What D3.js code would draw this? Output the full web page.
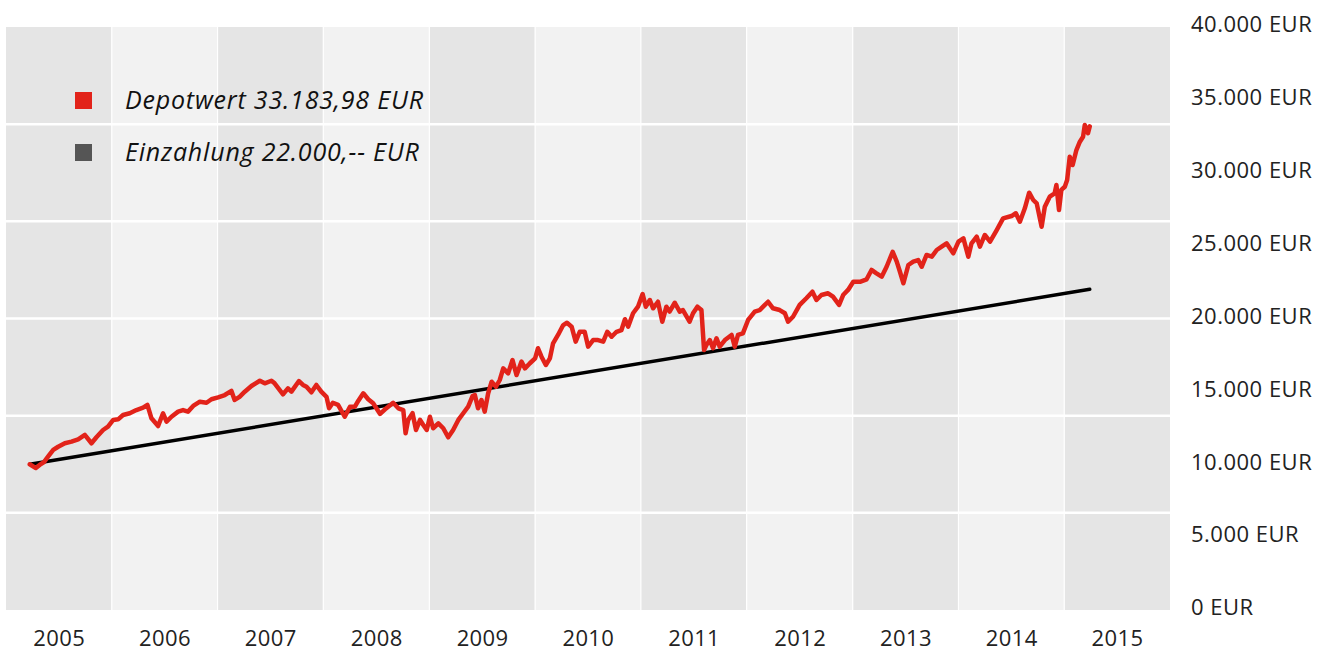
<!DOCTYPE html>
<html>
<head>
<meta charset="utf-8">
<script src="https://cdn.jsdelivr.net/npm/d3@7"></script>
<style>
body { margin: 0; background: #fff; }
svg text { font-family: "Open Sans", "Noto Sans", sans-serif; }
</style>
</head>
<body>
<svg></svg>
<script>
// Depotwert (Wochenwerte)
var depotDates = [
"2005-03-24","2005-04-14","2005-04-27","2005-05-12","2005-05-26","2005-06-13","2005-06-30","2005-07-23","2005-08-15","2005-09-07",
"2005-09-30","2005-10-23","2005-11-09","2005-12-02","2005-12-19","2006-01-06","2006-01-23","2006-02-09","2006-03-04","2006-03-27",
"2006-04-19","2006-05-04","2006-05-18","2006-06-10","2006-06-27","2006-07-09","2006-07-26","2006-08-18","2006-09-04","2006-09-21",
"2006-10-09","2006-11-01","2006-11-24","2006-12-11","2007-01-03","2007-01-26","2007-02-18","2007-03-01","2007-03-18","2007-04-05",
"2007-04-28","2007-05-27","2007-06-13","2007-07-06","2007-07-17","2007-08-15","2007-09-01","2007-09-13","2007-10-09","2007-10-23",
"2007-11-04","2007-11-21","2007-12-08","2007-12-25","2008-01-12","2008-01-21","2008-02-03","2008-02-21","2008-03-15","2008-04-02",
"2008-04-19","2008-05-01","2008-05-18","2008-06-04","2008-06-21","2008-07-15","2008-08-01","2008-08-12","2008-08-29","2008-09-16",
"2008-10-03","2008-10-11","2008-10-20","2008-11-04","2008-11-16","2008-11-30","2008-12-11","2008-12-23","2009-01-03","2009-01-14",
"2009-02-01","2009-02-18","2009-03-07","2009-03-24","2009-04-11","2009-04-28","2009-05-15","2009-05-30","2009-06-07","2009-06-18",
"2009-06-30","2009-07-11","2009-07-23","2009-08-04","2009-08-19","2009-09-01","2009-09-13","2009-09-30","2009-10-15","2009-10-29",
"2009-11-15","2009-11-27","2009-12-14","2010-01-01","2010-01-11","2010-01-23","2010-02-07","2010-02-21","2010-03-04","2010-03-21",
"2010-04-08","2010-04-21","2010-05-07","2010-05-21","2010-06-04","2010-06-21","2010-07-03","2010-07-20","2010-08-06","2010-08-24",
"2010-09-07","2010-09-22","2010-10-09","2010-10-26","2010-11-07","2010-11-18","2010-12-05","2010-12-22","2011-01-07","2011-01-18",
"2011-02-01","2011-02-12","2011-03-01","2011-03-16","2011-03-30","2011-04-10","2011-04-28","2011-05-15","2011-05-26","2011-06-18",
"2011-06-30","2011-07-15","2011-07-29","2011-08-07","2011-08-15","2011-08-27","2011-09-07","2011-09-19","2011-09-30","2011-10-18",
"2011-11-10","2011-11-21","2011-12-02","2011-12-19","2012-01-06","2012-01-29","2012-02-15","2012-03-15","2012-04-01","2012-04-24",
"2012-05-12","2012-05-23","2012-06-09","2012-07-02","2012-07-25","2012-08-15","2012-08-29","2012-09-15","2012-10-08","2012-10-25",
"2012-11-15","2012-11-29","2012-12-16","2013-01-03","2013-01-26","2013-02-18","2013-03-07","2013-03-24","2013-04-11","2013-04-28",
"2013-05-19","2013-06-02","2013-06-13","2013-06-25","2013-07-12","2013-07-29","2013-08-15","2013-08-27","2013-09-13","2013-10-01",
"2013-10-18","2013-11-04","2013-11-21","2013-12-14","2014-01-01","2014-01-18","2014-02-04","2014-02-15","2014-03-05","2014-03-16",
"2014-04-02","2014-04-20","2014-05-13","2014-06-04","2014-07-03","2014-07-18","2014-08-01","2014-08-18","2014-09-02","2014-09-16",
"2014-09-28","2014-10-15","2014-10-26","2014-11-12","2014-11-29","2014-12-05","2014-12-14","2014-12-22","2015-01-03","2015-01-11",
"2015-01-20","2015-01-30","2015-02-12","2015-02-24","2015-03-07","2015-03-13","2015-03-24","2015-03-30"
];
var depotValues = [
10000,9740,9950,10150,10520,10980,11200,11440,11550,11710,
12010,11440,11850,12350,12580,13040,13080,13380,13500,13720,
13880,14070,13150,12620,13500,12920,13260,13610,13720,13610,
14000,14290,14220,14460,14590,14750,15030,14410,14630,14980,
15370,15730,15550,15730,15550,14800,15210,14980,15710,15440,
15320,14940,15440,14980,14630,13840,14220,14070,13260,13950,
13950,14360,14870,14460,14180,13450,13770,13950,14220,13840,
13720,12120,13040,13500,12350,13040,12690,12350,13260,12470,
12810,12470,11850,12350,13040,13500,13950,14680,14750,13840,
14410,13610,14870,15660,15320,15780,16580,16240,17150,16120,
17040,16580,16930,17270,17960,17380,16810,17270,18300,18870,
19550,19710,19440,18410,19090,19090,18070,18520,18520,18410,
19090,18750,19090,19210,19950,19440,20360,20810,21680,20810,
21270,20700,21150,19780,20810,20470,21080,20470,20580,19780,
20360,20810,20580,17840,18180,18520,17960,18640,18070,18520,
18870,18070,18870,18980,19900,20470,20580,21150,20700,20580,
20360,19780,20120,20930,21390,21840,21270,21610,21730,21500,
20930,21610,21960,22520,22520,22690,23330,23100,22870,23550,
24580,23900,23210,22420,23670,23900,24010,23550,24360,24240,
24700,24930,25160,24470,25270,25500,24240,25160,25610,24930,
25730,25270,26070,26870,27030,27220,26640,27560,28630,28130,
27900,26300,27670,28360,28590,29160,27440,28820,29040,29500,
31100,30530,31560,32130,32470,33280,32710,33184
];
// Einzahlung: 10.000 EUR Start, danach monatlich 100 EUR
var einzahlungDates = ["2005-03-24", "2015-03-30"];
var einzahlungValues = [10000, 22000];

var years = [2005, 2006, 2007, 2008, 2009, 2010, 2011, 2012, 2013, 2014, 2015];
var yTicks = [0, 5000, 10000, 15000, 20000, 25000, 30000, 35000, 40000];
var legendLabels = ["Depotwert 33.183,98 EUR", "Einzahlung 22.000,-- EUR"];
var legendColors = ["#e2231a", "#555555"];

var screen = {width: 1327, height: 653};
var plot = {left: 6, right: 1170, top: 27, bottom: 610};

var parseDate = d3.timeParse("%Y-%m-%d");
var de = d3.formatLocale({decimal: ",", thousands: ".", grouping: [3], currency: ["", " EUR"]});
var fmt = de.format(",.0f");

var svg = d3.select("svg")
    .attr("width", screen.width)
    .attr("height", screen.height);

var xScale = d3.scaleTime()
    .domain([new Date(2005, 0, 1), new Date(2016, 0, 1)])
    .range([plot.left, plot.right]);
var yScale = d3.scaleLinear()
    .domain([0, 40000])
    .range([plot.bottom, plot.top]);

// Jahresbaender
svg.append("g")
    .selectAll("rect")
    .data(years)
    .enter()
    .append("rect")
    .attr("x", function(y){ return xScale(new Date(y, 0, 1)); })
    .attr("width", function(y){ return xScale(new Date(y + 1, 0, 1)) - xScale(new Date(y, 0, 1)); })
    .attr("y", plot.top)
    .attr("height", plot.bottom - plot.top)
    .attr("fill", function(y, i){ return i % 2 == 0 ? "#e5e5e5" : "#f2f2f2"; });

// vertikale Trennlinien
svg.append("g")
    .selectAll("line")
    .data(years.slice(1))
    .enter()
    .append("line")
    .attr("x1", function(y){ return xScale(new Date(y, 0, 1)); })
    .attr("x2", function(y){ return xScale(new Date(y, 0, 1)); })
    .attr("y1", plot.top)
    .attr("y2", plot.bottom)
    .attr("stroke", "#ffffff")
    .attr("stroke-width", 1.2);

// horizontale Gitterlinien (6 gleiche Streifen)
var gridValues = d3.range(1, 6).map(function(i){ return 40000 * i / 6; });
svg.append("g")
    .selectAll("line")
    .data(gridValues)
    .enter()
    .append("line")
    .attr("x1", plot.left)
    .attr("x2", plot.right)
    .attr("y1", function(v){ return yScale(v); })
    .attr("y2", function(v){ return yScale(v); })
    .attr("stroke", "#ffffff")
    .attr("stroke-width", 2.5);

// Achsen
var xAxis = d3.axisBottom(xScale)
    .tickValues(years.map(function(y){ return new Date(y, 6, 2); }))
    .tickFormat(d3.timeFormat("%Y"))
    .tickSize(0)
    .tickPadding(20);
var xg = svg.append("g")
    .attr("transform", "translate(0," + plot.bottom + ")")
    .call(xAxis);
xg.select(".domain").remove();
xg.selectAll("text").attr("font-size", 22).attr("fill", "#222").attr("font-family", null)
    .attr("letter-spacing", 0.4);

var yAxis = d3.axisRight(yScale)
    .tickValues(yTicks)
    .tickFormat(function(v){ return fmt(v) + " EUR"; })
    .tickSize(0)
    .tickPadding(21);
var yg = svg.append("g")
    .attr("transform", "translate(" + plot.right + ",0)")
    .call(yAxis);
yg.select(".domain").remove();
yg.selectAll("text").attr("font-size", 22).attr("fill", "#222").attr("font-family", null)
    .attr("letter-spacing", 0.5).attr("dy", "0.22em");

// Linien
var depot = depotDates.map(function(d, i){ return {date: parseDate(d), value: depotValues[i]}; });
var einzahlung = einzahlungDates.map(function(d, i){ return {date: parseDate(d), value: einzahlungValues[i]}; });

var line = d3.line()
    .x(function(d){ return xScale(d.date); })
    .y(function(d){ return yScale(d.value); });

svg.append("path")
    .datum(einzahlung)
    .attr("d", line)
    .attr("fill", "none")
    .attr("stroke", "#000000")
    .attr("stroke-width", 3.5)
    .attr("stroke-linecap", "round");

svg.append("path")
    .datum(depot)
    .attr("d", line)
    .attr("fill", "none")
    .attr("stroke", legendColors[0])
    .attr("stroke-width", 4.5)
    .attr("stroke-linejoin", "round")
    .attr("stroke-linecap", "round");

// Legende
var legend = svg.append("g")
    .selectAll("g")
    .data(legendLabels)
    .enter()
    .append("g")
    .attr("transform", function(d, i){ return "translate(75," + (92 + i * 52) + ")"; });

legend.append("rect")
    .attr("width", 17)
    .attr("height", 17)
    .attr("fill", function(d, i){ return legendColors[i]; });

legend.append("text")
    .attr("x", 50)
    .attr("y", 17)
    .attr("font-size", 25)
    .attr("font-style", "italic")
    .attr("letter-spacing", 0.8)
    .attr("fill", "#111")
    .text(function(d){ return d; });
</script>
</body>
</html>
